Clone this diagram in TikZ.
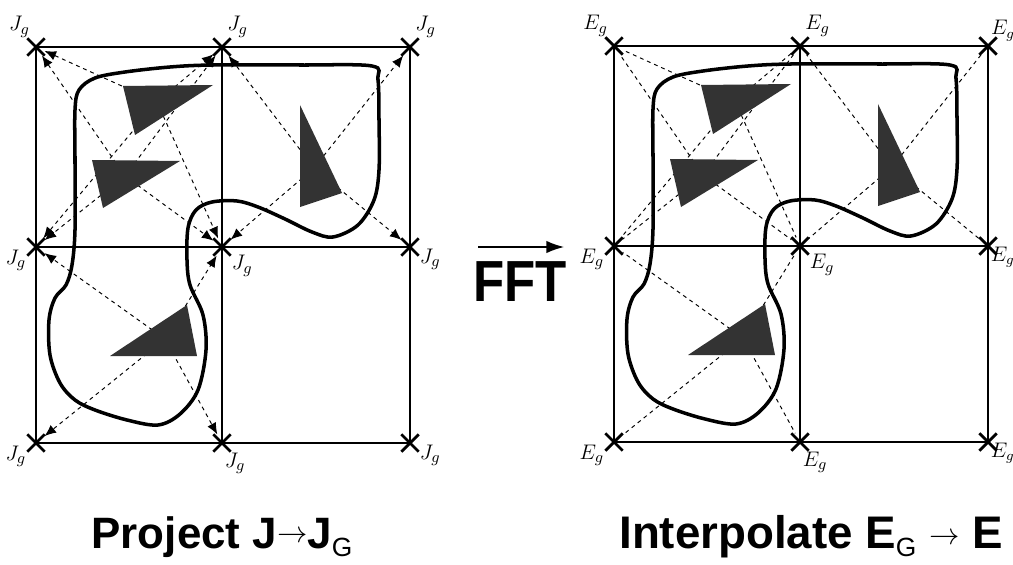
\documentclass[tikz,border=0pt]{standalone}
\usepackage{fontspec}
\newfontfamily\capfont{Liberation Sans}
\newfontfamily\narrowfont[FakeStretch=0.88]{Liberation Sans}
\usetikzlibrary{shapes.misc, arrows.meta}

% one grid panel: #1 name prefix, #2 shift, #3 field letter, #4 dashed style, #5 scope options
\newcommand{\fieldpanel}[5]{%
  \begin{scope}[shift={#2}, #5]
    % grid points
    \node[gridmark, label={[gridlbl]120:$#3_g$}] (#1tl) at (36,47) {};
    \node[gridmark, label={[gridlbl]65:$#3_g$}] (#1tm) at (222,47) {};
    \node[gridmark, label={[gridlbl, toplbl]65:$#3_g$}] (#1tr) at (410,47) {};
    \node[gridmark, label={[gridlbl]190:$#3_g$}] (#1ml) at (36,247) {};
    \node[gridmark, label={[gridlbl]-40:$#3_g$}] (#1mm) at (222,247) {};
    \node[gridmark, label={[gridlbl, edgelbl]-5:$#3_g$}] (#1mr) at (410,247) {};
    \node[gridmark, label={[gridlbl]190:$#3_g$}] (#1bl) at (36,443) {};
    \node[gridmark, label={[gridlbl]-80:$#3_g$}] (#1bm) at (222,443) {};
    \node[gridmark, label={[gridlbl, edgelbl]-5:$#3_g$}] (#1br) at (410,443) {};

    \draw[gridline] (#1tl.center) -- (#1tr.center) -- (#1br.center) -- (#1bl.center) -- cycle;
    \draw[gridline] (#1tm.center) -- (#1bm.center);
    \draw[midline] (#1ml.center) -- (#1mr.center);

    % current elements
    \coordinate (#1qa) at (157,102);
    \coordinate (#1qb) at (125,176);
    \coordinate (#1qc) at (314,168);
    \coordinate (#1qd) at (165,339);

    \foreach \g in {tl, tm, ml, mm} {
      \draw[#4] (#1qa) -- (#1\g);
      \draw[#4] (#1qb) -- (#1\g);
    }
    \foreach \g in {tm, tr, mm, mr} \draw[#4] (#1qc) -- (#1\g);
    \foreach \g in {ml, mm, bl, bm} \draw[#4] (#1qd) -- (#1\g);

    \fill[charge] (123,86) -- (213,85) -- (135,135) -- cycle;
    \fill[charge] (92,160) -- (180,161) -- (103,208) -- cycle;
    \fill[charge] (300,105) -- (342,193) -- (300,207) -- cycle;
    \fill[charge] (110,356) -- (187,305) -- (197,356) -- cycle;

    % conductor outline
    \draw[outline] plot[smooth cycle, tension=0.55] coordinates {
      (75,110) (79,90) (95,78) (125,72) (170,67) (213,65) (300,65) (372,66)
      (378,80) (379,120) (379,170) (374,200) (358,225) (333,237) (312,232)
      (285,219) (258,207) (237,201) (212,202) (196,210) (188,228) (187,260)
      (190,285) (203,315) (206,350) (198,390) (180,414) (158,425) (127,420)
      (95,410) (75,400) (60,383) (50,355) (49,320) (55,298) (66,285) (72,265)
      (75,230) (75,160)};
  \end{scope}}

\begin{document}
\begin{tikzpicture}[
    x=0.02cm, y=-0.02cm,
    gridmark/.style={cross out, draw=black, line width=1.6pt, minimum size=0.29cm, inner sep=0pt},
    gridlbl/.style={font=\fontsize{13}{13}\selectfont, inner sep=0.5pt},
    toplbl/.style={}, edgelbl/.style={},
    gridline/.style={line width=0.6pt},
    midline/.style={line width=1.3pt},
    projline/.style={dash pattern=on 2.2pt off 2.2pt, line width=0.55pt, -{Latex[length=6.5pt, width=5.5pt]}},
    interpline/.style={dash pattern=on 2.2pt off 2.2pt, line width=0.55pt},
    charge/.style={black!80},
    outline/.style={line width=2pt}
  ]
  \useasboundingbox (0,0) rectangle (1013,564);

  \fieldpanel{j}{(0,0)}{J}{projline}{}
  \fieldpanel{e}{(578,-1)}{E}{interpline}{toplbl/.style={font=\fontsize{12}{12}\selectfont, label distance=-3pt},
    edgelbl/.style={font=\fontsize{12}{12}\selectfont, label distance=-4pt}}

  % transform step
  \node[anchor=base, inner sep=0pt, font=\narrowfont\bfseries\fontsize{33}{33}\selectfont] (fft) at (520,301) {FFT};
  \coordinate (fftA) at (478,247);
  \coordinate (fftB) at (564,247);
  \draw[line width=0.7pt, -{Latex[length=10pt, width=7pt]}] (fftA) -- (fftB);

  \node[anchor=base, inner sep=0pt, font=\capfont\bfseries\fontsize{25}{25}\selectfont] (projcap) at (222,548)
    {Project J\raisebox{3pt}{\fontsize{18}{18}\selectfont$\rightarrow$}J\raisebox{-5pt}{\mdseries\fontsize{15}{15}\selectfont G}};
  \node[anchor=base, inner sep=0pt, font=\capfont\bfseries\fontsize{26}{26}\selectfont] (interpcap) at (811,548)
    {Interpolate E\raisebox{-5pt}{\mdseries\fontsize{15}{15}\selectfont G} \raisebox{2pt}{\fontsize{18}{18}\selectfont$\rightarrow$} E};
\end{tikzpicture}
\end{document}
